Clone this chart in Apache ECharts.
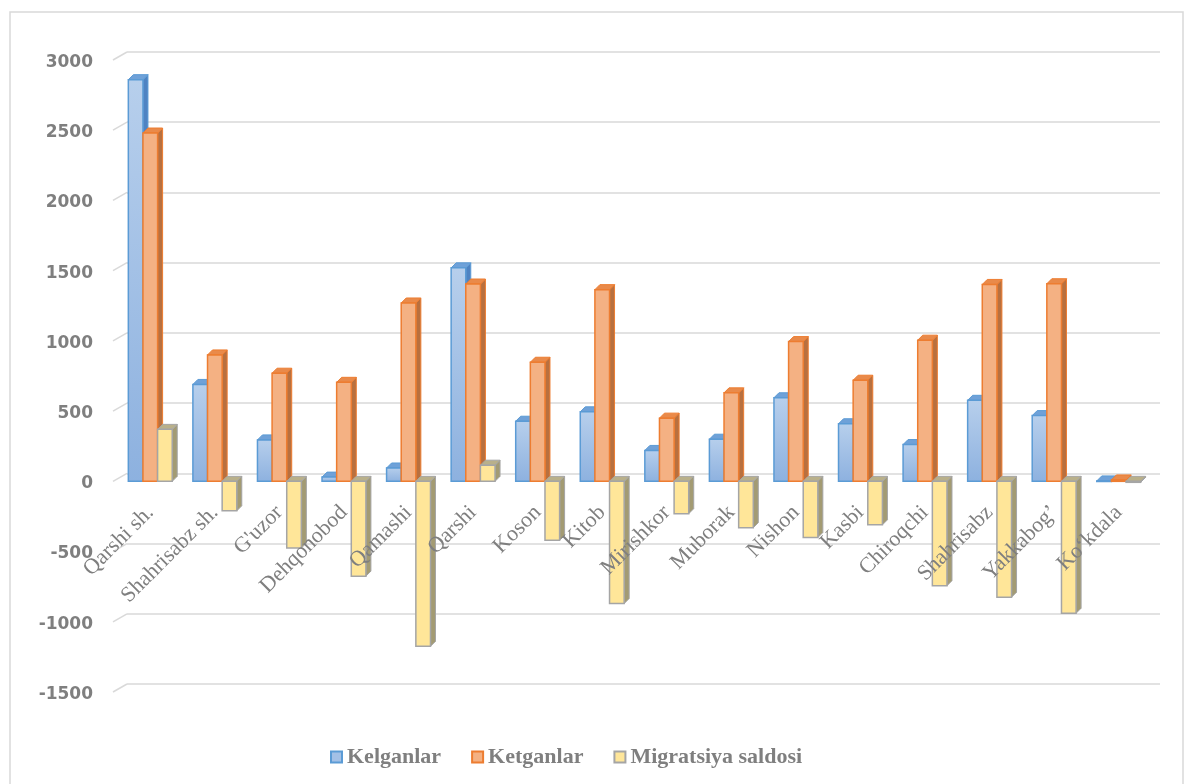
<!DOCTYPE html>
<html>
<head>
<meta charset="utf-8">
<script src="https://cdn.jsdelivr.net/npm/echarts@6/dist/echarts.min.js"></script>
<style>
html,body{margin:0;padding:0;background:#fff;}
#chart{width:1189px;height:784px;}
</style>
</head>
<body>
<div id="chart"></div>
<script>
const categories = ["Qarshi sh.","Shahrisabz sh.","G'uzor","Dehqonobod","Qamashi","Qarshi","Koson","Kitob","Mirishkor","Muborak","Nishon","Kasbi","Chiroqchi","Shahrisabz","Yakkabog’","Ko‘kdala"];
const kelganlar = [2860, 690, 295, 30, 95, 1520, 428, 495, 220, 300, 595, 410, 262, 577, 468, 3];
const ketganlar = [2480, 900, 770, 705, 1270, 1405, 848, 1365, 450, 630, 995, 720, 1005, 1402, 1407, 10];
const saldo = [370, -210, -475, -675, -1175, 115, -420, -870, -230, -330, -400, -310, -743, -825, -939, -7];
const yTicks = [-1500, -1000, -500, 0, 500, 1000, 1500, 2000, 2500, 3000];
const seriesNames = ["Kelganlar", "Ketganlar", "Migratsiya saldosi"];

const chart = echarts.init(document.getElementById('chart'), null, {renderer: 'canvas'});

const gridFront = {left: 118, right: 38, top: 60, bottom: 92};
const gridBack = {left: 127, right: 29, top: 52, bottom: 100};

const styles = [
  {front: new echarts.graphic.LinearGradient(0, 0, 0, 1, [{offset: 0, color: '#b7cfec'}, {offset: 1, color: '#8db1df'}]),
   legend: '#a3c0e6', border: '#5b9bd5', side: '#4f83c2', top: '#6fa1d8'},
  {front: '#f4b183', legend: '#f4b183', border: '#ed7d31', side: '#b8703f', top: '#e98a4a'},
  {front: '#ffe699', legend: '#ffe699', border: '#a5a5a5', side: '#a39b73', top: '#b9b08a'}
];
const DEPTH = 5;

function makeRender(s) {
  return function (params, api) {
    const idx = api.value(0);
    const val = api.value(1);
    const base = api.coord([idx, 0]);
    const tip = api.coord([idx, val]);
    const band = api.size([1, 0])[0];
    const barW = band * 0.68 / 3;
    const x0 = base[0] - 1.5 * barW + s * barW;
    const x1 = x0 + barW;
    const yTop = Math.min(base[1], tip[1]);
    const yBot = Math.max(base[1], tip[1]);
    const st = styles[s];
    const d = DEPTH;
    return {
      type: 'group',
      children: [
        {type: 'polygon', shape: {points: [[x1, yTop], [x1 + d, yTop - d], [x1 + d, yBot - d], [x1, yBot]]},
         style: {fill: st.side, stroke: st.border, lineWidth: 1}},
        {type: 'polygon', shape: {points: [[x0, yTop], [x0 + d, yTop - d], [x1 + d, yTop - d], [x1, yTop]]},
         style: {fill: st.top, stroke: st.border, lineWidth: 1}},
        {type: 'rect', shape: {x: x0, y: yTop, width: barW, height: Math.max(yBot - yTop, 0.5)},
         style: {fill: st.front, stroke: st.border, lineWidth: 1.5}}
      ]
    };
  };
}

function toPairs(arr) { return arr.map(function (v, i) { return [i, v]; }); }

const option = {
  backgroundColor: '#fff',
  animation: false,
  grid: [
    Object.assign({}, gridFront),
    Object.assign({}, gridBack)
  ],
  legend: {
    data: seriesNames,
    left: 325,
    top: 741,
    itemWidth: 11,
    itemHeight: 11,
    itemGap: 30,
    icon: 'rect',
    textStyle: {fontFamily: 'Liberation Serif', fontWeight: 'bold', fontSize: 22, color: '#7f7f7f'}
  },
  xAxis: [
    {
      type: 'category', gridIndex: 0, data: categories, position: 'bottom', offset: 0, z: 20,
      axisLine: {show: false, onZero: false},
      axisTick: {show: false},
      axisLabel: {rotate: 45, margin: 19, interval: 0, fontFamily: 'Liberation Serif', fontSize: 22, color: '#7f7f7f'},
      splitLine: {show: false}
    },
    {
      type: 'category', gridIndex: 1, data: categories, show: false
    }
  ],
  yAxis: [
    {
      type: 'value', gridIndex: 0, min: -1500, max: 3000, interval: 500,
      axisLine: {show: false}, axisTick: {show: false},
      splitLine: {show: false},
      axisLabel: {margin: 25, fontFamily: 'DejaVu Sans', fontWeight: 'bold', fontSize: 17, color: '#7f7f7f',
        formatter: function (v) { return '{n|' + v + '}'; },
        rich: {n: {fontFamily: 'DejaVu Sans', fontWeight: 'bold', fontSize: 17, color: '#7f7f7f', padding: [5, 0, 0, 0]}}}
    },
    {
      type: 'value', gridIndex: 1, min: -1500, max: 3000, interval: 500,
      axisLine: {show: false}, axisTick: {show: false},
      axisLabel: {show: false},
      splitLine: {show: true, lineStyle: {color: '#d9d9d9', width: 1.5}}
    }
  ],
  series: [0, 1, 2].map(function (s) {
    const data = [kelganlar, ketganlar, saldo][s];
    return {
      name: seriesNames[s], type: 'custom', xAxisIndex: 0, yAxisIndex: 0,
      data: toPairs(data),
      encode: {x: 0, y: 1},
      renderItem: makeRender(s),
      itemStyle: {color: styles[s].legend, borderColor: styles[s].border, borderWidth: 1.5},
      z: 2 + s
    };
  })
};

chart.setOption(option);

// move the category axis (labels) up to the zero line
const zeroPx = chart.convertToPixel({yAxisIndex: 0}, 0);
const bottomPx = chart.convertToPixel({yAxisIndex: 0}, yTicks[0]);
chart.setOption({xAxis: [{offset: -(bottomPx - zeroPx)}, {}]});

const graphics = [{
  type: 'rect', silent: true, z: -10,
  shape: {x: 10, y: 12, width: 1173, height: 800},
  style: {fill: 'none', stroke: '#d9d9d9', lineWidth: 1.5}
}];
yTicks.forEach(function (v) {
  const yf = chart.convertToPixel({yAxisIndex: 0}, v);
  const yb = chart.convertToPixel({yAxisIndex: 1}, v);
  graphics.push({
    type: 'line', silent: true, z: -5,
    shape: {x1: 113, y1: yf, x2: gridBack.left, y2: yb},
    style: {stroke: '#d9d9d9', lineWidth: 1.5}
  });
});
chart.setOption({graphic: graphics});
</script>
</body>
</html>
